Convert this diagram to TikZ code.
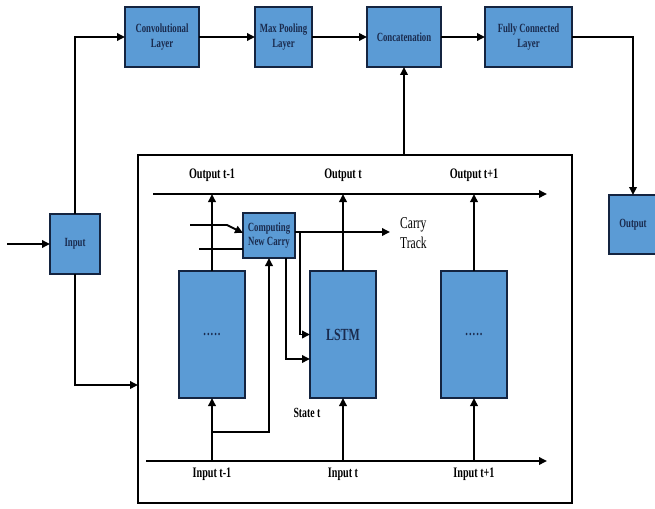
\documentclass[tikz,border=0pt]{standalone}
\usepackage{fontspec}
\setmainfont{Liberation Serif}[FakeStretch=0.7]
\usepackage{tikz}
\usetikzlibrary{arrows.meta,positioning}
\definecolor{boxblue}{HTML}{5B9BD5}
\definecolor{boxline}{HTML}{142440}
\definecolor{boxtext}{HTML}{1A2B4E}

\begin{document}
\begin{tikzpicture}[x=1pt, y=-1pt,
  box/.style={draw=boxline, fill=boxblue, line width=1.8pt, minimum height=60pt, inner sep=2pt, outer sep=0pt,
    align=center, text=boxtext, font=\fontsize{12.5}{15}\selectfont\bfseries},
  cell/.style={box, minimum width=66pt, minimum height=127pt},
  lab/.style={font=\fontsize{14.5}{16}\selectfont\bfseries, inner sep=0pt},
  arr/.style={-{Triangle[length=8pt,width=7.5pt]}, line width=1.8pt},
  plain/.style={line width=1.8pt}
]
  \useasboundingbox (0,0) rectangle (655,508);

  % top row
  \node[box, minimum width=74pt] (conv) at (162,37) {Convolutional\\Layer};
  \node[box, minimum width=57pt, right=56pt of conv] (pool) {Max Pooling\\Layer};
  \node[box, minimum width=74pt, right=55pt of pool] (concat) {Concatenation};
  \node[box, minimum width=87pt, right=44pt of concat] (fc) {Fully Connected\\Layer};

  \draw[arr] (conv) -- (pool);
  \draw[arr] (pool) -- (concat);
  \draw[arr] (concat) -- (fc);

  % input and output
  \node[box, minimum width=50pt] (input) at (75,244) {Input};
  \node[box, minimum width=48pt, minimum height=59pt] (output) at (633,224.5) {Output};
  \coordinate (src) at (7,244);
  \coordinate (enter) at (138,385);

  \draw[arr] (src) -- (input);
  \draw[arr] (input.north) |- (conv.west);
  \draw[arr] (input.south) |- (enter);
  \draw[arr] (fc.east) -| (output.north);

  % recurrent block
  \node[draw, line width=1.8pt, minimum width=434pt, minimum height=348pt, outer sep=0pt] (block) at (355,329) {};
  \draw[arr] (block.north -| concat.south) -- (concat.south);

  \coordinate (outl) at (153,194);
  \coordinate (outr) at (547,194);
  \coordinate (inl) at (146,461);
  \coordinate (inr) at (547,461);
  \draw[arr] (outl) -- (outr);
  \draw[arr] (inl) -- (inr);

  \node[cell] (prev) at (212,334.5) {\fontsize{15}{15}\selectfont .\kern1pt.\kern1pt.\kern1pt.\kern1pt.};
  \node[cell] (lstm) at (343,334.5) {\fontsize{17}{19}\selectfont LSTM};
  \node[cell] (next) at (474,334.5) {\fontsize{15}{15}\selectfont .\kern1pt.\kern1pt.\kern1pt.\kern1pt.};

  \foreach \c/\t in {prev/t-1, lstm/t, next/t+1} {
    \draw[arr] (\c.south |- inl) -- (\c.south);
    \draw[arr] (\c.north) -- (\c.north |- outl);
    \node[lab] at (\c.north |- 0,175) {Output \t};
    \node[lab] at (\c.south |- 0,474) {Input \t};
  }

  % carry track
  \node[box, minimum width=52pt, minimum height=45pt, font=\fontsize{12.5}{14}\selectfont\bfseries] (carry) at (269,235.5) {Computing\\New Carry};
  \coordinate (track) at (390,232);
  \coordinate (cin1) at (190,225);
  \coordinate (cin2) at (199,249);
  \coordinate (fb) at (212,432);

  \draw[arr] ([yshift=3.5pt]carry.east) -- (track);
  \node[anchor=west, align=left, inner sep=0pt, font=\fontsize{16.5}{20}\selectfont] at (400,233) {Carry\\Track};
  \draw[arr] (cin1) -- ++(37,0) -- ([yshift=2.5pt]carry.west);
  \draw[plain] (cin2) -- (cin2 -| carry.west);
  \draw[arr] (fb) -| (carry.south);
  \draw[arr] ([xshift=17pt]carry.south) |- ([yshift=-24.5pt]lstm.west);
  \draw[arr] ([shift={(5pt,3.5pt)}]carry.east) |- (lstm.west);

  \node[lab, font=\fontsize{14}{16}\selectfont\bfseries] (state) at (307,413) {State t};
\end{tikzpicture}
\end{document}
